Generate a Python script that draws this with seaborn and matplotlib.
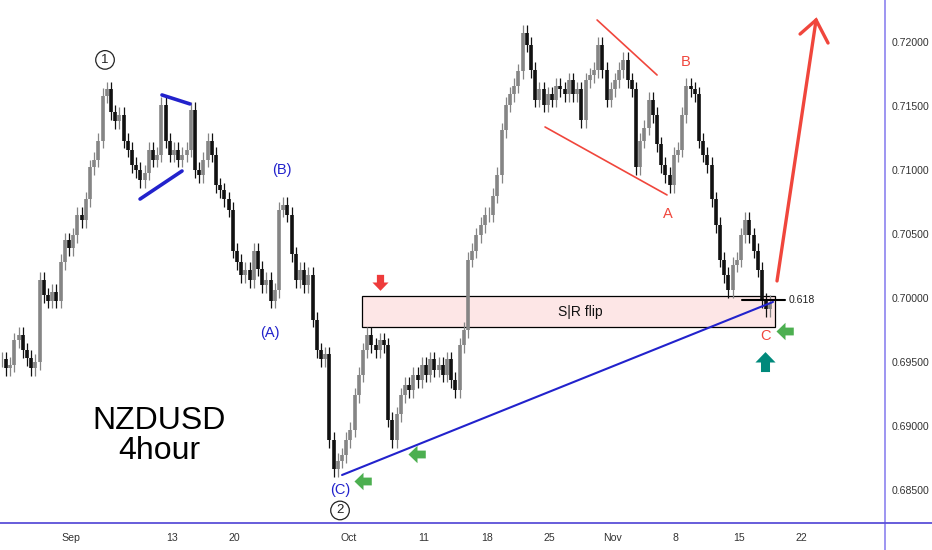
import numpy as np
import matplotlib
matplotlib.use("Agg")
import matplotlib.pyplot as plt
from matplotlib.path import Path
from matplotlib.lines import Line2D
from matplotlib.patches import Rectangle
import seaborn as sns

# ==========================
# Data: NZDUSD closes, 3 bars per trading day (day 0 = 1 Sep)
# ==========================

wave_1_up = [0.6952, 0.6945, 0.6948, 0.6967, 0.6971, 0.6959, 0.6953, 0.6945, 0.6950, 0.7014,
             0.7002, 0.6998, 0.7005, 0.6998, 0.7028, 0.7045, 0.7039, 0.7049, 0.7065, 0.7061,
             0.7077, 0.7102, 0.7108, 0.7123, 0.7158, 0.7163]

wave_2_down = [0.7145, 0.7138, 0.7143, 0.7123, 0.7116, 0.7104, 0.7100, 0.7092, 0.7098, 0.7116,
               0.7108, 0.7112, 0.7151, 0.7123, 0.7112, 0.7116, 0.7108, 0.7112, 0.7116, 0.7147,
               0.7100, 0.7096, 0.7108, 0.7123, 0.7112, 0.7088, 0.7084, 0.7077, 0.7069, 0.7037,
               0.7028, 0.7018, 0.7022, 0.7014, 0.7037, 0.7023, 0.7010, 0.7014, 0.6998, 0.7006,
               0.7069, 0.7073, 0.7065, 0.7034, 0.7014, 0.7022, 0.7010, 0.7018, 0.6983, 0.6959,
               0.6952, 0.6956, 0.6889, 0.6866]

wave_3_up = [0.6873, 0.6877, 0.6889, 0.6897, 0.6924, 0.6940, 0.6959, 0.6971, 0.6963, 0.6959,
             0.6967, 0.6963, 0.6905, 0.6889, 0.6909, 0.6924, 0.6932, 0.6928, 0.6940, 0.6936,
             0.6948, 0.6940, 0.6952, 0.6944, 0.6948, 0.6940, 0.6952, 0.6936, 0.6928, 0.6963,
             0.6975, 0.7030, 0.7037, 0.7049, 0.7057, 0.7065, 0.7065, 0.7080, 0.7096, 0.7131,
             0.7151, 0.7159, 0.7166, 0.7177, 0.7207]

wave_4_abc = [0.7198, 0.7178, 0.7155, 0.7163, 0.7151, 0.7159, 0.7155, 0.7166, 0.7163, 0.7159,
              0.7170, 0.7159, 0.7163, 0.7139, 0.7170, 0.7174, 0.7178, 0.7198, 0.7178, 0.7155,
              0.7163, 0.7170, 0.7178, 0.7186, 0.7170, 0.7163, 0.7102, 0.7123, 0.7133, 0.7155,
              0.7143, 0.7120, 0.7104, 0.7096, 0.7088, 0.7112, 0.7116, 0.7143, 0.7166, 0.7163,
              0.7159, 0.7123, 0.7112, 0.7104, 0.7077, 0.7057, 0.7030, 0.7018, 0.7006, 0.7026,
              0.7030, 0.7049, 0.7061, 0.7049, 0.7037, 0.7022, 0.6998, 0.6991, 0.6996]

date_ticks = [0, 8, 13, 22, 28, 33, 38, 43, 48, 53, 58]
date_labels = ["Sep", "13", "20", "Oct", "11", "18", "25", "Nov", "8", "15", "22"]
price_ticks = [0.685, 0.690, 0.695, 0.700, 0.705, 0.710, 0.715, 0.720]

close = np.array(wave_1_up + wave_2_down + wave_3_up + wave_4_abc)
day = -5.5 + np.arange(len(close)) / 3
open_ = np.r_[close[0], close[:-1]]
wick = 0.0006

# ==========================
# Style
# ==========================

sns.set_theme(style="white")
plt.rcParams["font.family"] = ["Liberation Sans", "DejaVu Sans"]

RED = "#f0463c"
BLUE = "#2222cc"
GREEN = "#4caf50"

fig = plt.figure(figsize=(9.32, 5.5), dpi=100)
ax = fig.add_axes([0, 27 / 550, 885 / 932, 523 / 550])

# ==========================
# Bars
# ==========================

bar_colors = np.where(close >= open_, "#858585", "#111111")
ax.vlines(day, np.minimum(open_, close) - wick, np.maximum(open_, close) + wick,
          colors=bar_colors, lw=0.9, zorder=3)
ax.vlines(day, open_, close, colors=bar_colors, lw=2.6, zorder=3)

# ==========================
# Drawings
# ==========================

# S|R flip zone
ax.add_patch(Rectangle((23.1, 0.69773), 55.87 - 23.1, 0.70016 - 0.69773,
                       fc="#fde6e6", ec="black", lw=0.9, zorder=1))
ax.text(40.4, 0.69893, "S|R flip", fontsize=10, ha="center", va="center", color="#111", zorder=5)

# triangle (blue) and wedge (red)
ax.plot([5.48, 8.81], [0.70773, 0.70992], color=BLUE, lw=2.6, zorder=4)
ax.plot([7.22, 9.44], [0.71586, 0.71516], color=BLUE, lw=2.6, zorder=4)
ax.plot([41.75, 46.51], [0.72172, 0.71742], color=RED, lw=1.2, zorder=4)
ax.plot([37.62, 47.30], [0.71336, 0.70805], color=RED, lw=1.2, zorder=4)

# trend line
ax.plot([21.51, 55.71], [0.68617, 0.69969], color=BLUE, lw=1.5, zorder=4)

# 0.618 level
ax.plot([53.25, 56.67], [0.69984, 0.69984], color="black", lw=1.5, zorder=5)
ax.text(56.95, 0.69984, "0.618", fontsize=7.6, ha="left", va="center", color="#222")

# projection arrow
ax.plot([56.03, 59.13], [0.70133, 0.72172], color=RED, lw=2.4, solid_capstyle="round", zorder=4)
ax.plot([57.86, 59.13, 60.08], [0.72062, 0.72172, 0.71992], color=RED, lw=2.4,
        solid_capstyle="round", solid_joinstyle="miter", zorder=4)

# wave labels
circle = dict(boxstyle="circle,pad=0.25", fc="white", ec="#222", lw=0.9)
ax.text(2.7, 0.7186, "1", fontsize=9.5, ha="center", va="center", color="#222", bbox=circle)
ax.text(21.35, 0.6834, "2", fontsize=9.5, ha="center", va="center", color="#222", bbox=circle)
for x, y, s in [(16.75, 0.7100, "(B)"), (15.8, 0.6973, "(A)"), (21.35, 0.6850, "(C)")]:
    ax.text(x, y, s, fontsize=10.5, ha="center", va="center", color=BLUE)
for x, y, s in [(47.4, 0.7066, "A"), (48.8, 0.7184, "B"), (55.15, 0.6970, "C")]:
    ax.text(x, y, s, fontsize=10.5, ha="center", va="center", color=RED)


def block_arrow(angle):
    verts = np.array([(-0.26, 0.55), (0.26, 0.55), (0.26, 0.0), (0.58, 0.0), (0.0, -0.6),
                      (-0.58, 0.0), (-0.26, 0.0), (-0.26, 0.55)])
    a = np.deg2rad(angle)
    rot = np.array([[np.cos(a), -np.sin(a)], [np.sin(a), np.cos(a)]])
    return Path(verts @ rot.T, closed=True)


ax.plot(24.52, 0.70125, marker=block_arrow(0), ms=12, color="#ee3b3b", mew=0, zorder=6)
ax.plot(27.46, 0.68781, marker=block_arrow(-90), ms=13, color=GREEN, mew=0, zorder=6)
ax.plot(23.17, 0.68570, marker=block_arrow(-90), ms=13, color=GREEN, mew=0, zorder=6)
ax.plot(56.67, 0.69742, marker=block_arrow(-90), ms=13, color=GREEN, mew=0, zorder=6)
ax.plot(55.08, 0.69500, marker=block_arrow(180), ms=15, color="#00897b", mew=0, zorder=6)

# title block
ax.text(7.0, 0.6892, "NZDUSD\n4hour", fontsize=23, ha="center", va="center",
        multialignment="center", color="black", linespacing=1.0)

# ==========================
# Axes
# ==========================

ax.set_xlim(-5.635, 64.6)
ax.set_ylim(0.68242, 0.72328)
ax.set_xticks(date_ticks)
ax.set_xticklabels(date_labels)
ax.set_yticks(price_ticks)
ax.set_yticklabels([f"{p:.5f}" for p in price_ticks])
ax.yaxis.tick_right()
ax.tick_params(axis="both", length=0, labelsize=7.6, labelcolor="#333")
ax.tick_params(axis="x", pad=7)
ax.tick_params(axis="y", pad=5)
for s in ax.spines.values():
    s.set_visible(False)
ax.grid(False)

fig.add_artist(Line2D([885 / 932, 885 / 932], [0, 1], transform=fig.transFigure,
                      color="#958cf0", lw=1.3))
fig.add_artist(Line2D([0, 1], [27 / 550, 27 / 550], transform=fig.transFigure,
                      color="#5a4fd8", lw=1.3))

plt.savefig("out.png", dpi=100)
